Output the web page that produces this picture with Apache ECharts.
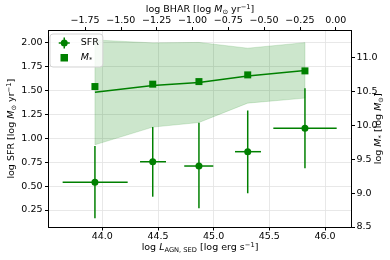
<!DOCTYPE html>
<html><head><meta charset="utf-8">
<script src="https://cdn.jsdelivr.net/npm/echarts@6/dist/echarts.min.js"></script>
<style>html,body{margin:0;padding:0;background:#fff}#c{width:390px;height:260px}</style>
</head><body><div id="c"></div>
<script>
// ---- data ----
const lagn      = [43.934, 44.453, 44.868, 45.306, 45.820];
const lagnLo    = [43.644, 44.339, 44.736, 45.192, 45.536];
const lagnHi    = [44.228, 44.572, 44.997, 45.425, 46.105];
const sfr       = [0.540, 0.755, 0.710, 0.860, 1.105];
const sfrLo     = [0.163, 0.389, 0.268, 0.425, 0.686];
const sfrHi     = [0.920, 1.118, 1.163, 1.291, 1.523];
const mstar     = [10.573, 10.608, 10.646, 10.745, 10.804];
const mstarLine = [10.490, 10.587, 10.631, 10.730, 10.808];
const mstarBandLo = [9.713, 9.974, 10.042, 10.328, 10.402];
const mstarBandHi = [11.261, 11.217, 11.224, 11.139, 11.221];
const xTicks    = [44.0, 44.5, 45.0, 45.5, 46.0];
const bharTicks = [-1.75, -1.5, -1.25, -1.0, -0.75, -0.5, -0.25, 0.0];
const sfrTicks  = [0.25, 0.5, 0.75, 1.0, 1.25, 1.5, 1.75, 2.0];
const mTicks    = [8.5, 9.0, 9.5, 10.0, 10.5, 11.0];

const FF = 'DejaVu Sans';
const GREEN = '#008000';
const FS = 9.5;
const minus = s => s.replace('-', '\u2212');
const rich = {
  n: {fontFamily: FF, fontSize: FS, lineHeight: 12, color: '#000'},
  i: {fontFamily: FF, fontSize: FS, lineHeight: 12, fontStyle: 'italic', color: '#000'},
  sub: {fontFamily: FF, fontSize: 6.7, lineHeight: 7, verticalAlign: 'bottom', color: '#000'},
  sup: {fontFamily: FF, fontSize: 6.7, lineHeight: 7, verticalAlign: 'top', color: '#000'}
};
const axisLineStyle = {show: true, onZero: false, lineStyle: {color: '#000', width: 1}};
const tickStyle = vals => ({show: true, length: 3.5, inside: false, customValues: vals, lineStyle: {color: '#000', width: 1}});
const labelStyle = (vals, dec, margin) => ({
  show: true, customValues: vals, margin: margin, fontFamily: FF, fontSize: FS, color: '#000',
  formatter: v => minus(Number(v).toFixed(dec)), showMinLabel: true, showMaxLabel: true, hideOverlap: false
});
const nameStyle = {fontFamily: FF, fontSize: FS, color: '#000', rich: rich};

const sfrIcon = 'path://M4.75,0H6.25V11H4.75Z M0,4.75H11V6.25H0Z M9,5.5A3.5,3.5,0,1,1,2,5.5A3.5,3.5,0,1,1,9,5.5Z';

const chart = echarts.init(document.getElementById('c'), null, {renderer: 'canvas'});
chart.setOption({
  animation: false,
  backgroundColor: '#fff',
  grid: {left: 48.5, right: 38.5, top: 30.5, bottom: 33, containLabel: false, outerBoundsMode: 'none'},
  legend: {
    left: 50, top: 34, orient: 'vertical', padding: [3, 4, 2, 7], itemGap: 1.5,
    itemWidth: 11, itemHeight: 11, selectedMode: false,
    backgroundColor: 'rgba(255,255,255,0.8)', borderColor: '#d4d4d4', borderWidth: 1, borderRadius: 3,
    textStyle: {fontFamily: FF, fontSize: FS, lineHeight: 12, color: '#000', padding: [0, 0, 0, 6], rich: {
      i: {fontFamily: FF, fontSize: FS, fontStyle: 'italic', lineHeight: 12, color: '#000'},
      s: {fontFamily: FF, fontSize: 6.7, lineHeight: 7, verticalAlign: 'bottom', color: '#000'}
    }},
    formatter: n => n === 'SFR' ? 'SFR' : '{i|M}{s|*}',
    data: [
      {name: 'SFR', icon: sfrIcon, itemStyle: {color: GREEN}},
      {name: 'M*', icon: 'rect', itemStyle: {color: GREEN, borderColor: '#fff', borderWidth: 3.5}}
    ]
  },
  xAxis: [{
    type: 'value', position: 'bottom', min: 43.517, max: 46.238, minInterval: 0.5, maxInterval: 0.5,
    axisLine: axisLineStyle, axisTick: tickStyle(xTicks), axisLabel: labelStyle(xTicks, 1, 5),
    splitLine: {show: true, lineStyle: {color: '#e2e2e2', width: 0.8}},
    name: '{n|log }{i|L}{sub|AGN, SED}{n| [log erg s}{sup|\u22121}{n|]}',
    nameLocation: 'middle', nameGap: 15, nameTextStyle: nameStyle, nameMoveOverlap: false
  }, {
    type: 'value', position: 'top', min: -2.005, max: 0.110, minInterval: 0.25, maxInterval: 0.25,
    axisLine: axisLineStyle, axisTick: tickStyle(bharTicks), axisLabel: labelStyle(bharTicks, 2, 5),
    splitLine: {show: false},
    name: '{n|log BHAR [log }{i|M}{sub|\u2299}{n| yr}{sup|\u22121}{n|]}',
    nameLocation: 'middle', nameGap: 15, nameTextStyle: nameStyle, nameMoveOverlap: false
  }],
  yAxis: [{
    type: 'value', position: 'left', min: 0.072, max: 2.128, minInterval: 0.25, maxInterval: 0.25,
    axisLine: axisLineStyle, axisTick: tickStyle(sfrTicks), axisLabel: labelStyle(sfrTicks, 2, 6),
    splitLine: {show: true, lineStyle: {color: '#e2e2e2', width: 0.8}},
    name: '{n|log SFR [log }{i|M}{sub|\u2299}{n| yr}{sup|\u22121}{n|]}',
    nameLocation: 'middle', nameRotate: 90, nameGap: 31, nameTextStyle: nameStyle, nameMoveOverlap: false
  }, {
    type: 'value', position: 'right', min: 8.5, max: 11.40, minInterval: 0.5, maxInterval: 0.5,
    axisLine: axisLineStyle, axisTick: tickStyle(mTicks), axisLabel: labelStyle(mTicks, 1, 5),
    splitLine: {show: false},
    name: '{n|log }{i|M}{sub|*}{n| [log }{i|M}{sub|\u2299}{n|]}',
    nameLocation: 'middle', nameRotate: 90, nameGap: 21, nameTextStyle: nameStyle, nameMoveOverlap: false
  }],
  series: [{
    type: 'custom', name: 'band', xAxisIndex: 0, yAxisIndex: 1, z: 1, silent: true,
    data: lagn.map((x, i) => [x, mstarBandLo[i], mstarBandHi[i]]),
    encode: {x: 0, y: [1, 2]},
    renderItem: (params, api) => {
      if (params.dataIndex !== 0) return null;
      const up = lagn.map((x, i) => api.coord([x, mstarBandHi[i]]));
      const lo = lagn.map((x, i) => api.coord([x, mstarBandLo[i]])).reverse();
      return {type: 'polygon', shape: {points: up.concat(lo)},
        style: {fill: 'rgba(0,128,0,0.2)', stroke: 'rgba(0,128,0,0.15)', lineWidth: 1}};
    }
  }, {
    type: 'line', name: 'trend', xAxisIndex: 0, yAxisIndex: 1, z: 3, silent: true,
    data: lagn.map((x, i) => [x, mstarLine[i]]), showSymbol: false, symbol: 'none',
    lineStyle: {color: GREEN, width: 1.5}
  }, {
    type: 'scatter', name: 'M*', xAxisIndex: 0, yAxisIndex: 1, z: 4,
    data: lagn.map((x, i) => [x, mstar[i]]), symbol: 'rect', symbolSize: 7,
    itemStyle: {color: GREEN, opacity: 1}
  }, {
    type: 'custom', name: 'SFR', xAxisIndex: 0, yAxisIndex: 0, z: 5,
    data: lagn.map((x, i) => [x, sfr[i], lagnLo[i], lagnHi[i], sfrLo[i], sfrHi[i]]),
    encode: {x: [0, 2, 3], y: [1, 4, 5]},
    renderItem: (params, api) => {
      const x = api.value(0), y = api.value(1);
      const pL = api.coord([api.value(2), y]), pR = api.coord([api.value(3), y]);
      const pB = api.coord([x, api.value(4)]), pT = api.coord([x, api.value(5)]);
      const st = {stroke: GREEN, lineWidth: 1.5};
      return {type: 'group', children: [
        {type: 'line', shape: {x1: pL[0], y1: pL[1], x2: pR[0], y2: pR[1]}, style: st},
        {type: 'line', shape: {x1: pB[0], y1: pB[1], x2: pT[0], y2: pT[1]}, style: st}
      ]};
    },
    itemStyle: {color: GREEN}
  }, {
    type: 'scatter', name: 'SFR', xAxisIndex: 0, yAxisIndex: 0, z: 6,
    data: lagn.map((x, i) => [x, sfr[i]]), symbol: 'circle', symbolSize: 7,
    itemStyle: {color: GREEN, opacity: 1}
  }]
});
</script></body></html>
